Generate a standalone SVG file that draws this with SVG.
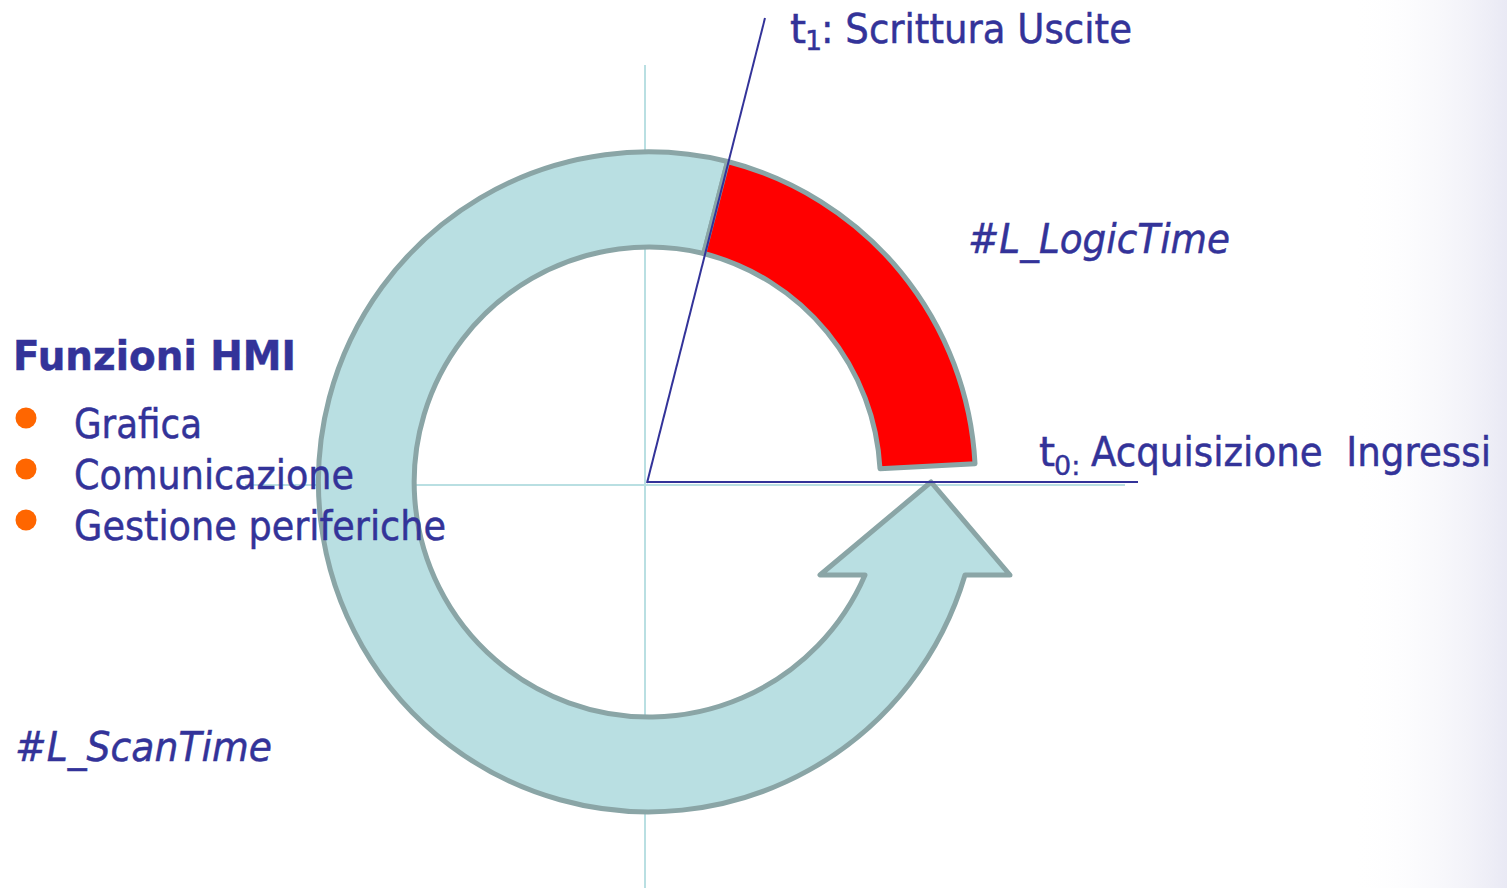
<svg xmlns="http://www.w3.org/2000/svg" width="1507" height="888" viewBox="0 0 1507 888">
  <defs>
    <linearGradient id="bgGrad" x1="0" y1="0" x2="1" y2="0">
      <stop offset="0" stop-color="#ffffff" stop-opacity="0"/>
      <stop offset="1" stop-color="#e9e9f4"/>
    </linearGradient>
    <style>
      .txt { font-family: "DejaVu Sans", "Liberation Sans", sans-serif; fill: #333399; stroke: #333399; stroke-width: 0.5; font-size: 41px; }
      .sub { font-family: "DejaVu Sans", "Liberation Sans", sans-serif; fill: #333399; stroke: #333399; stroke-width: 0.4; font-size: 27px; }
      .ital { font-style: italic; }
      .bold { font-weight: bold; }
      .axis { stroke: #b9dfe2; stroke-width: 2; fill: none; }
      .conn { stroke: #333399; stroke-width: 2; fill: none; }
      .ringShape { stroke: #8aa5a6; stroke-width: 5; stroke-linejoin: round; }
      .bullet { fill: #ff6600; }
    </style>
  </defs>

  <g id="background">
    <rect x="0" y="0" width="1507" height="888" fill="#ffffff"/>
    <rect x="1350" y="0" width="157" height="888" fill="url(#bgGrad)"/>
  </g>

  <g id="axes">
    <line class="axis" x1="645" y1="65" x2="645" y2="888"/>
    <line class="axis" x1="245" y1="485" x2="1125" y2="485"/>
  </g>

  <g id="scan-ring">
    <path class="ringShape" fill="#b9dfe2" d="M 727.6 161.5 A 330 330 0 1 0 965 575 L 1010 575 L 931 482 L 820 575 L 865 575 A 235 235 0 1 1 703.8 253.5 Z"/>
  </g>

  <g id="logic-segment">
    <path class="ringShape" fill="#ff0000" d="M 727.6 161.5 A 330 330 0 0 1 975 463.7 L 880 468.7 A 235 235 0 0 0 703.8 253.5 Z"/>
  </g>

  <g id="connectors">
    <line class="conn" x1="647" y1="483" x2="765" y2="18"/>
    <line class="conn" x1="647" y1="482" x2="1138" y2="482"/>
  </g>

  <g id="label-t1">
    <text class="txt" x="790" y="43">t</text>
    <text class="sub" x="805" y="50">1</text>
    <text class="txt" x="821" y="43" textLength="311" lengthAdjust="spacingAndGlyphs">: Scrittura Uscite</text>
  </g>

  <g id="label-t0">
    <text class="txt" x="1039" y="466">t</text>
    <text class="sub" x="1054" y="475">0:</text>
    <g transform="scale(0.905,1)">
      <text class="txt" x="1205.5" y="466" textLength="442" lengthAdjust="spacingAndGlyphs" style="white-space:pre" xml:space="preserve">Acquisizione  Ingressi</text>
    </g>
  </g>

  <g id="label-logictime">
    <text class="txt ital" x="968" y="253" textLength="262" lengthAdjust="spacingAndGlyphs">#L_LogicTime</text>
  </g>

  <g id="label-scantime">
    <text class="txt ital" x="15" y="761" textLength="257" lengthAdjust="spacingAndGlyphs">#L_ScanTime</text>
  </g>

  <g id="hmi-list">
    <text class="txt bold" x="13" y="370" textLength="283" lengthAdjust="spacingAndGlyphs">Funzioni HMI</text>
    <circle class="bullet" cx="26" cy="418" r="10.5"/>
    <circle class="bullet" cx="26" cy="469" r="10.5"/>
    <circle class="bullet" cx="26" cy="520" r="10.5"/>
    <text class="txt" x="74" y="438" textLength="128" lengthAdjust="spacingAndGlyphs">Grafica</text>
    <text class="txt" x="74" y="489" textLength="280" lengthAdjust="spacingAndGlyphs">Comunicazione</text>
    <text class="txt" x="74" y="540" textLength="372" lengthAdjust="spacingAndGlyphs">Gestione periferiche</text>
  </g>
</svg>
